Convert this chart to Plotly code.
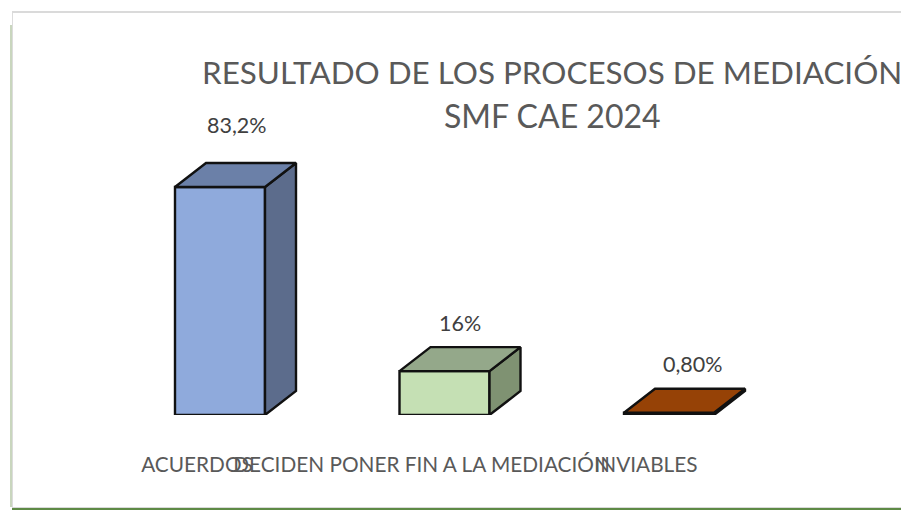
import plotly.graph_objects as go

categories = ["ACUERDOS", "DECIDEN PONER FIN A LA MEDIACIÓN", "INVIABLES"]
values = [83.2, 16, 0.8]
value_labels = ["83,2%", "16%", "0,80%"]
front_colors = ["#8FAADC", "#C5E0B4", "#984807"]
top_colors = ["#6B80A8", "#94A88A", "#964206"]
side_colors = ["#5C6C8C", "#7F9272", "#6E3205"]
title_lines = ["RESULTADO DE LOS PROCESOS DE MEDIACIÓN", "SMF CAE 2024"]

W, H = 901, 510
BASE_PX = 415
PX_PER_CAT = 224.5
PX_PER_UNIT = 2.74
X0_PX = 220
BAR_W = 90 / PX_PER_CAT
DX = 31 / PX_PER_CAT
DY = 24 / PX_PER_UNIT
FONT = "Lato, Carlito, Calibri, sans-serif"
OUTLINE = dict(color="#111111", width=2.4)

xs = list(range(len(categories)))
fig = go.Figure()

for i, v in zip(xs, values):
    r = i + BAR_W / 2
    l = i - BAR_W / 2
    fig.add_trace(go.Scatter(
        x=[r, r + DX, r + DX, r, r], y=[0, DY, v + DY, v, 0],
        mode="lines", fill="toself", fillcolor=side_colors[i],
        line=OUTLINE, showlegend=False, hoverinfo="skip"))
    fig.add_trace(go.Scatter(
        x=[l, l + DX, r + DX, r, l], y=[v, v + DY, v + DY, v, v],
        mode="lines", fill="toself", fillcolor=top_colors[i],
        line=OUTLINE, showlegend=False, hoverinfo="skip"))

fig.add_trace(go.Bar(
    x=xs, y=values, width=BAR_W,
    marker=dict(color=front_colors, line=OUTLINE),
    showlegend=False, hoverinfo="skip"))

label_shift = [(17, 38), (15, 24), (24, 25)]
annotations = []
for i, v in enumerate(values):
    annotations.append(dict(
        x=i, y=v + DY, text=value_labels[i], showarrow=False,
        xshift=label_shift[i][0], yshift=label_shift[i][1],
        font=dict(family=FONT, size=21.5, color="#404040")))
annotations.append(dict(
    xref="paper", yref="paper", x=552 / W, y=(BASE_PX - 72) / BASE_PX,
    xanchor="center", yanchor="middle",
    text=title_lines[0], showarrow=False,
    font=dict(family=FONT, size=31.4, color="#595959")))
annotations.append(dict(
    xref="paper", yref="paper", x=552 / W, y=(BASE_PX - 116) / BASE_PX,
    xanchor="center", yanchor="middle",
    text=title_lines[1], showarrow=False,
    font=dict(family=FONT, size=32, color="#595959")))

def px(x):
    return x / W

def py(y):
    return (BASE_PX - y) / BASE_PX

def rect(x0, y0, x1, y1, color):
    return dict(type="rect", xref="paper", yref="paper", layer="below",
                x0=px(x0), x1=px(x1), y0=py(y0), y1=py(y1),
                fillcolor=color, line=dict(width=0))

shapes = [
    rect(12, 11, W, 13, "#DADADA"),
    rect(10, 25, 12, 507, "#C9D6BE"),
    rect(12, 13, 13, 507, "#DCDCDC"),
    rect(12, 507, W, 508, "#D9D9D9"),
    rect(12, 508, W, 510, "#5E8A45"),
]

fig.update_layout(
    width=W, height=H,
    margin=dict(l=0, r=0, t=0, b=H - BASE_PX, pad=0),
    paper_bgcolor="white", plot_bgcolor="rgba(0,0,0,0)",
    annotations=annotations, shapes=shapes,
    font=dict(family=FONT),
    xaxis=dict(
        range=[-X0_PX / PX_PER_CAT, (W - X0_PX) / PX_PER_CAT],
        tickmode="array", tickvals=[i - 23 / PX_PER_CAT for i in xs],
        ticktext=categories, tickangle=0, ticks="",
        ticklabelstandoff=35, showgrid=False, zeroline=False, showline=False,
        tickfont=dict(family=FONT, size=20.8, color="#595959")),
    yaxis=dict(range=[0, BASE_PX / PX_PER_UNIT], visible=False),
)

fig.write_html("out.html", config=dict(displayModeBar=False),
               post_script="document.body.style.margin='0';")
